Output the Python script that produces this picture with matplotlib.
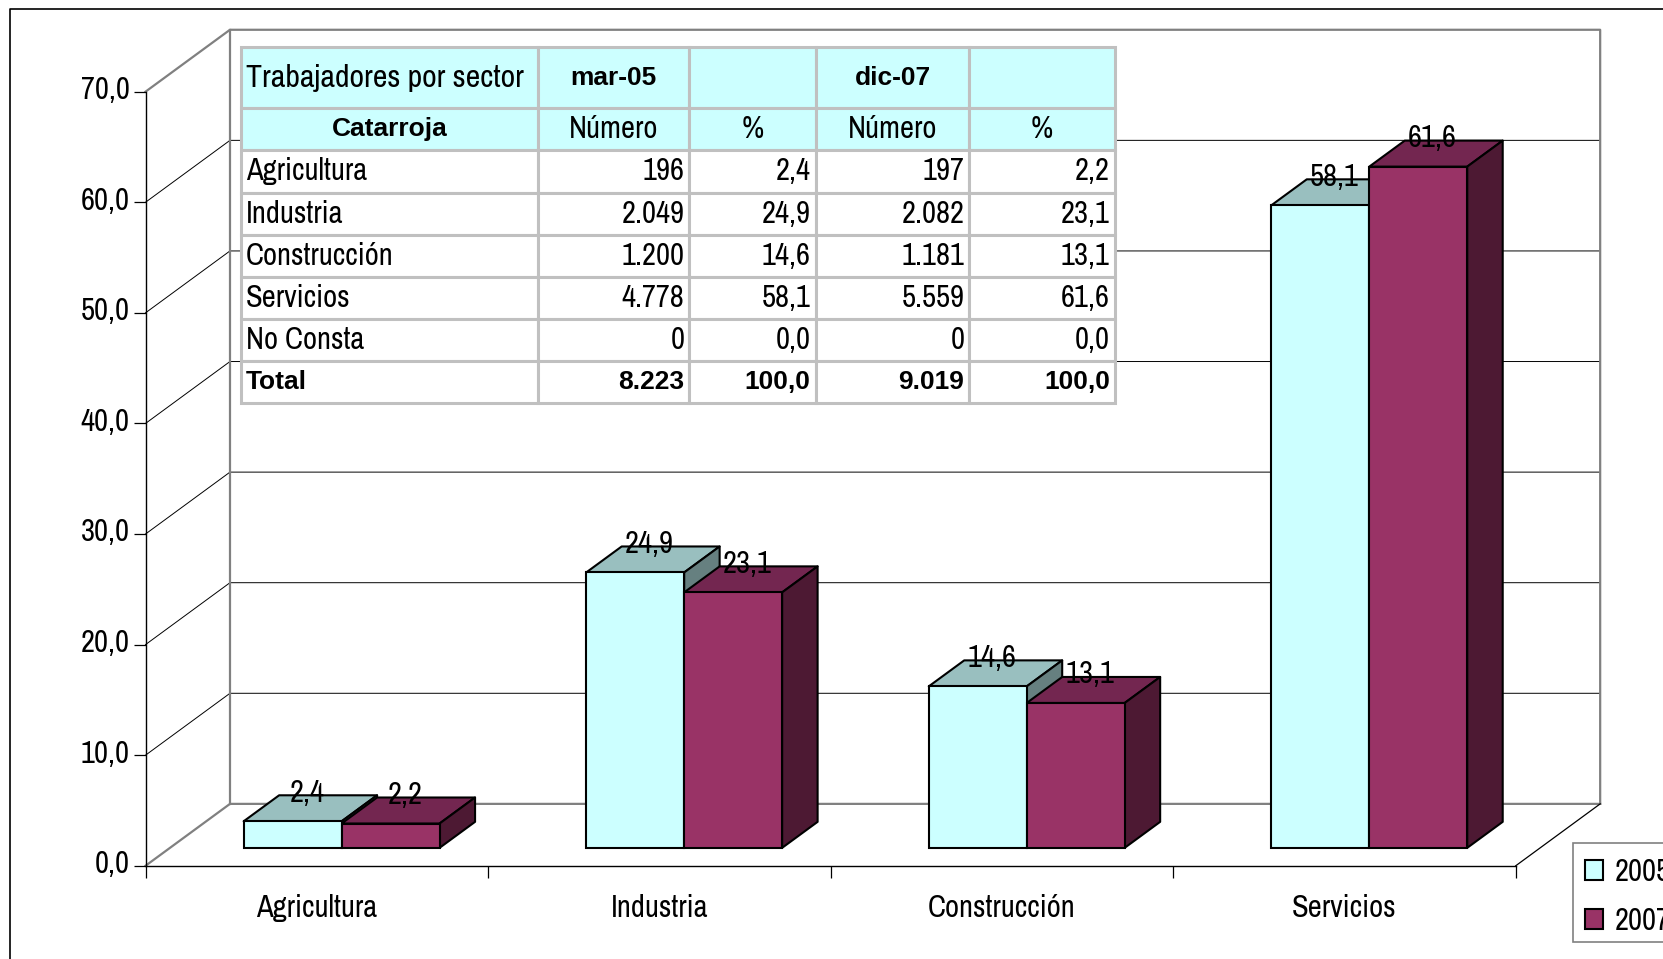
import matplotlib
matplotlib.use("Agg")
import matplotlib.pyplot as plt
from matplotlib.font_manager import FontProperties
from matplotlib.lines import Line2D
from matplotlib.patches import Polygon, Rectangle
from matplotlib.table import Table
from matplotlib.transforms import ScaledTranslation

# Data
categories = ["Agricultura", "Industria", "Construcción", "Servicios"]
values_2005 = [2.4, 24.9, 14.6, 58.1]
values_2007 = [2.2, 23.1, 13.1, 61.6]
series_names = ["2005", "2007"]
y_ticks = [0, 10, 20, 30, 40, 50, 60, 70]

table_rows = [
    ["Trabajadores por sector", "mar-05", "", "dic-07", ""],
    ["Catarroja", "Número", "%", "Número", "%"],
    ["Agricultura", "196", "2,4", "197", "2,2"],
    ["Industria", "2.049", "24,9", "2.082", "23,1"],
    ["Construcción", "1.200", "14,6", "1.181", "13,1"],
    ["Servicios", "4.778", "58,1", "5.559", "61,6"],
    ["No Consta", "0", "0,0", "0", "0,0"],
    ["Total", "8.223", "100,0", "9.019", "100,0"],
]

# Style
W, H = 1663, 959
fonts = ["Archivo Narrow", "Liberation Sans"]
plt.rcParams["font.family"] = fonts
text_size = 22
cyan = ["#CCFFFF", "#99BFBF", "#668080"]
maroon = ["#993366", "#732650", "#4D1933"]
wall_grey = "#808080"
cell_grey = "#C0C0C0"

# 3D look: depth 0 = front plane, depth 1 = back wall
wall_dx = 0.2466
wall_dy = 5.6
bar_z0, bar_z1 = 0.29, 0.71
bar_width = 0.286


def project(x, y, z):
    return x + z * wall_dx, y + z * wall_dy


fig = plt.figure(figsize=(W / 100, H / 100), dpi=100, facecolor="white")
ax = fig.add_axes([145.5 / W, 1 - 865.8 / H, (1515.7 - 145.5) / W, (865.8 - 91.7) / H])
ax.set_facecolor("none")
ax.set_xlim(0, 4)
ax.set_ylim(0, 70)

# Outer frame
fig.add_artist(Line2D([10 / W, 10 / W, 1], [0, 1 - 8.7 / H, 1 - 8.7 / H], color="black", lw=1.2))

# Walls and grid
n_cat = len(categories)
for v in y_ticks[1:-1]:
    xs, ys = zip(project(0, v, 0), project(0, v, 1), project(n_cat, v, 1))
    ax.plot(xs, ys, color="black", lw=0.7, clip_on=False, zorder=1)
top = [project(0, 70, 0), project(0, 70, 1), project(n_cat, 70, 1), project(n_cat, 0, 1)]
ax.plot(*zip(*top), color=wall_grey, lw=1.6, clip_on=False, zorder=1)
ax.plot(*zip(project(0, 70, 1), project(0, 0, 1)), color=wall_grey, lw=1.6, clip_on=False, zorder=1)
floor = [project(0, 0, 0), project(0, 0, 1), project(n_cat, 0, 1)]
ax.plot(*zip(*floor), color=wall_grey, lw=1.6, clip_on=False, zorder=1)
ax.plot(*zip(project(n_cat, 0, 0), project(n_cat, 0, 1)), color="black", lw=0.9, clip_on=False, zorder=1)


def draw_bar(x, val, colors):
    # top and side faces, front face goes through ax.bar
    left, bottom = project(x, 0, bar_z0)
    right = left + bar_width
    tops = [(left, bottom + val), (right, bottom + val)]
    back = [project(right - bar_z0 * wall_dx, val, bar_z1), project(left - bar_z0 * wall_dx, val, bar_z1)]
    ax.add_patch(Polygon(tops + back, closed=True, facecolor=colors[1], edgecolor="black",
                         lw=1.5, clip_on=False, zorder=3, joinstyle="round"))
    side = [(right, bottom), (right, bottom + val), back[0],
            project(right - bar_z0 * wall_dx, 0, bar_z1)]
    ax.add_patch(Polygon(side, closed=True, facecolor=colors[2], edgecolor="black",
                         lw=1.5, clip_on=False, zorder=3, joinstyle="round"))
    ax.bar(left, val, width=bar_width, bottom=bottom, align="edge", color=colors[0],
           edgecolor="black", lw=1.5, clip_on=False, zorder=3.2)
    lx, _ = project(x + bar_width / 2, 0, 0.46)
    _, ly = project(x, val, bar_z1)
    ax.annotate(f"{val:.1f}".replace(".", ","), (lx, ly), xytext=(0, 2), textcoords="offset points",
                ha="center", va="center", fontsize=text_size, color="black", zorder=5, annotation_clip=False)


for i in range(n_cat):
    center = i + 0.501
    draw_bar(center - bar_width, values_2005[i], cyan)
    draw_bar(center, values_2007[i], maroon)

# Axes
for side in ["top", "right"]:
    ax.spines[side].set_visible(False)
for side in ["left", "bottom"]:
    ax.spines[side].set_linewidth(1.0)
    ax.spines[side].set_zorder(2)
ax.set_yticks(y_ticks)
ax.set_yticklabels([f"{v:.1f}".replace(".", ",") for v in y_ticks], fontsize=text_size)
ax.tick_params(axis="y", length=8.3, width=0.9, pad=3)
lift = ScaledTranslation(0, 3 / 72, fig.dpi_scale_trans)
for lab in ax.get_yticklabels():
    lab.set_transform(lab.get_transform() + lift)
ax.set_xticks(range(n_cat + 1))
ax.set_xticklabels([])
ax.tick_params(axis="x", length=8.6, width=0.9)
ax.set_xticks([i + 0.5 for i in range(n_cat)], minor=True)
ax.set_xticklabels(categories, minor=True, fontsize=text_size)
ax.tick_params(axis="x", which="minor", length=0, pad=20)

# Legend, the box is drawn apart because it runs past the right edge
fig.add_artist(Rectangle((1573 / W, 1 - 942 / H), 200 / W, 99 / H, facecolor="white",
                         edgecolor=wall_grey, lw=1.2, transform=fig.transFigure, zorder=5))
handles = [
    Rectangle((0, 0), 1, 1, facecolor=cyan[0], edgecolor="black", lw=1.5),
    Rectangle((0, 0), 1, 1, facecolor=maroon[0], edgecolor="black", lw=1.5),
]
leg = fig.legend(handles, series_names, loc="upper left", bbox_to_anchor=(1584.5 / W, 1 - 858 / H),
                 bbox_transform=fig.transFigure, fontsize=text_size, frameon=False,
                 borderaxespad=0, borderpad=0, handlelength=0.62, handleheight=0.62,
                 handletextpad=0.36, labelspacing=0.68)
leg.set_zorder(6)

# Table on top of the back wall
col_edges = [241, 537.7, 689.3, 815.6, 969.5, 1115]
row_edges = [47, 108, 150, 192.7, 235, 276.7, 319, 361, 403]
overlay = fig.add_axes([0, 0, 1, 1])
overlay.axis("off")
overlay.patch.set_alpha(0)
tbl = Table(overlay, bbox=[col_edges[0] / W, 1 - row_edges[-1] / H,
                           (col_edges[-1] - col_edges[0]) / W, (row_edges[-1] - row_edges[0]) / H])
tbl.auto_set_font_size(False)
for r, row in enumerate(table_rows):
    for c, txt in enumerate(row):
        width = (col_edges[c + 1] - col_edges[c]) / W
        height = (row_edges[r + 1] - row_edges[r]) / H
        if r < 2:
            loc = "left" if (r == 0 and c == 0) else "center"
            face = cyan[0]
        else:
            loc = "left" if c == 0 else "right"
            face = "white"
        bold = r == 7 or (r == 0 and c in (1, 3)) or (r == 1 and c == 0)
        if bold:
            # Archivo Narrow has no bold here
            fp = FontProperties(family="Liberation Sans", size=19, weight="bold")
        else:
            fp = FontProperties(family=fonts, size=text_size + 1 if r == 0 else text_size)
        cell = tbl.add_cell(r, c, width, height, text=txt, loc=loc, facecolor=face,
                            edgecolor=cell_grey, fontproperties=fp)
        cell.set_linewidth(2.2)
        cell.PAD = 5 / (col_edges[c + 1] - col_edges[c])
overlay.add_table(tbl)

fig.savefig("out.png", dpi=100)
plt.close(fig)
